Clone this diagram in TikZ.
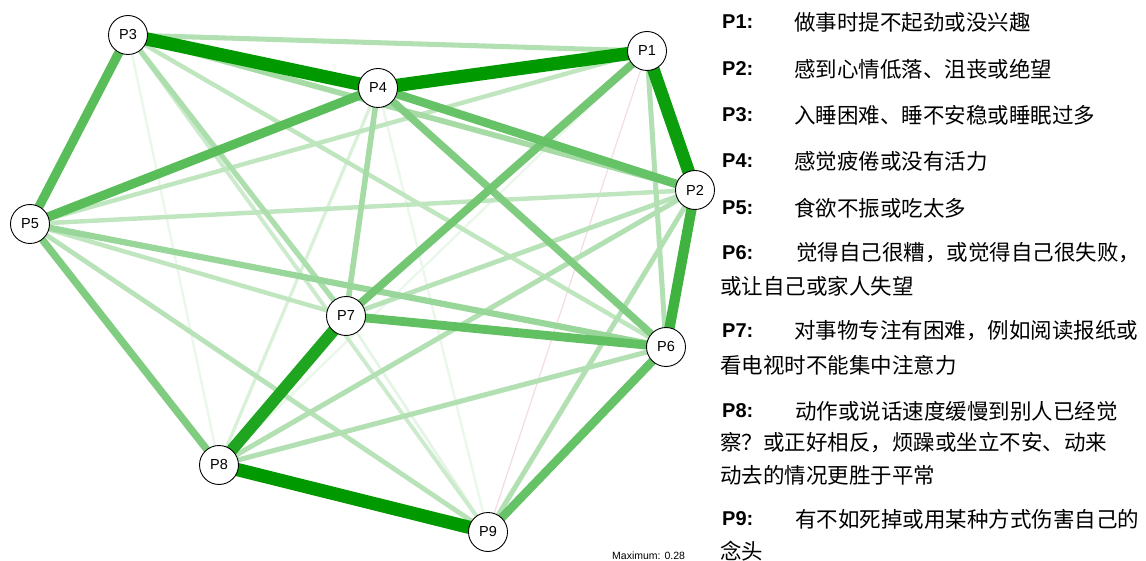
\documentclass[tikz,border=0pt]{standalone}
\usepackage{fontspec}
\setmainfont{Liberation Sans}
\newfontfamily\cjk{Noto Sans CJK SC}
\usetikzlibrary{backgrounds}
\definecolor{pos}{HTML}{009900}
\definecolor{negc}{HTML}{F3DCE4}
\begin{document}
\begin{tikzpicture}[x=1pt,y=-1pt,
  pnode/.style={circle, draw=black, line width=0.9pt, fill=white, minimum size=39pt, inner sep=0pt, font=\fontsize{14.5}{16}\selectfont},
  lab/.style={anchor=west, inner sep=0pt, font=\bfseries\fontsize{20}{22}\selectfont},
  desc/.style={anchor=west, inner sep=0pt, font=\cjk\fontsize{21.5}{24}\selectfont},
  maxlab/.style={anchor=west, inner sep=0pt, font=\fontsize{10.5}{12}\selectfont}]
\useasboundingbox (0,0) rectangle (1146,561);
% nodes
\node[pnode] (P1) at (647,51) {P1};
\node[pnode] (P2) at (695,190) {P2};
\node[pnode] (P3) at (128,35) {P3};
\node[pnode] (P4) at (378,88) {P4};
\node[pnode] (P5) at (30,224) {P5};
\node[pnode] (P6) at (666,347) {P6};
\node[pnode] (P7) at (346,316) {P7};
\node[pnode] (P8) at (219,465) {P8};
\node[pnode] (P9) at (488,532) {P9};
% edges
\begin{scope}[on background layer]
\draw[line width=1.2pt, draw=negc] (P1.center) -- (P9.center);
\foreach \a/\b/\v in {1/8/8, 3/8/8, 4/9/8, 7/9/10, 4/8/15, 3/9/20,
  1/5/25, 2/5/25, 3/6/25, 5/7/25, 2/7/28, 5/9/28,
  1/3/30, 1/6/30, 2/8/30, 2/9/30, 6/8/30, 3/7/32, 2/3/35, 4/7/35,
  5/6/40, 4/6/50, 5/8/50, 1/7/55, 2/4/60, 6/9/60, 6/7/62,
  3/5/65, 4/5/65, 2/6/75, 7/8/88, 1/2/95, 1/4/100, 3/4/100, 8/9/100}{
  \pgfmathsetmacro\w{1.5+0.118*\v}
  \draw[line width=\w pt, draw=pos!\v!white] (P\a.center) -- (P\b.center);
}
\end{scope}
% legend
\node[lab] (L1) at (722,22) {P1:};
\node[desc] (D1) at (794,22) {做事时提不起劲或没兴趣};
\node[lab] (L2) at (722,69) {P2:};
\node[desc] (D2) at (794,69) {感到心情低落、沮丧或绝望};
\node[lab] (L3) at (722,115) {P3:};
\node[desc] (D3) at (794,115) {入睡困难、睡不安稳或睡眠过多};
\node[lab] (L4) at (722,161) {P4:};
\node[desc] (D4) at (794,161) {感觉疲倦或没有活力};
\node[lab] (L5) at (722,208) {P5:};
\node[desc] (D5) at (794,208) {食欲不振或吃太多};
\node[lab] (L6) at (722,253) {P6:};
\node[desc] (D6) at (796,253) {觉得自己很糟，或觉得自己很失败，};
\node[desc] (D6b) at (720,286) {或让自己或家人失望};
\node[lab] (L7) at (722,331) {P7:};
\node[desc] (D7) at (794,331) {对事物专注有困难，例如阅读报纸或};
\node[desc] (D7b) at (720,365) {看电视时不能集中注意力};
\node[lab] (L8) at (722,411) {P8:};
\node[desc] (D8) at (795,411) {动作或说话速度缓慢到别人已经觉};
\node[desc] (D8b) at (720,443) {察？或正好相反，烦躁或坐立不安、动来};
\node[desc] (D8c) at (720,475) {动去的情况更胜于平常};
\node[lab] (L9) at (722,519) {P9:};
\node[desc] (D9) at (795,519) {有不如死掉或用某种方式伤害自己的};
\node[desc] (D9b) at (720,551) {念头};
\node[maxlab] (MX) at (612,556) {Maximum: 0.28};
\end{tikzpicture}
\end{document}
